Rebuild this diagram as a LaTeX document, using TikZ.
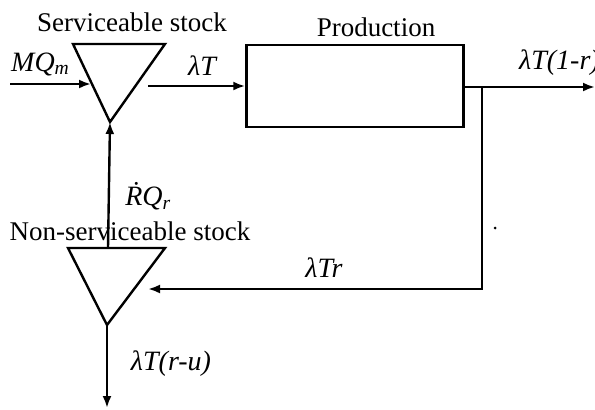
\documentclass[tikz,border=0pt]{standalone}
\usepackage{fontspec}
\setmainfont{Liberation Serif}
\usetikzlibrary{arrows.meta}
\begin{document}
\begin{tikzpicture}[x=1pt,y=-1pt,
  flow/.style={line width=2.4pt,-{Latex[length=12pt,width=9pt]}},
  edge/.style={line width=2.4pt},
  lbl/.style={font=\fontsize{27}{30}\selectfont,inner sep=0pt},
  mlbl/.style={font=\fontsize{28}{30}\selectfont\itshape,inner sep=0pt}]
\useasboundingbox (0,0) rectangle (595,410);
% serviceable stock triangle
\coordinate (s1) at (73,44);
\coordinate (s2) at (165,44);
\coordinate (sa) at (110,122);
\draw[edge,line join=miter] (s1) -- (s2) -- (sa) -- cycle;
% non-serviceable stock triangle
\coordinate (n1) at (68,248);
\coordinate (n2) at (165,248);
\coordinate (na) at (107,325);
\draw[edge,line join=miter] (n1) -- (n2) -- (na) -- cycle;
% production box
\node[draw,line width=2.4pt,minimum width=217pt,minimum height=82pt,inner sep=0pt] (prod) at (355,86) {};
\node[lbl] (tprod) at (376,27) {Production};
\node[lbl] (tserv) at (132,22) {Serviceable stock};
\node[lbl] (tnon) at (130,231) {Non-serviceable stock};
% coordinates
\coordinate (in0) at (10,84);
\coordinate (in1) at (91,84);
\coordinate (o0) at (148,86);
\coordinate (o1) at (prod.west |- o0);
\coordinate (p0) at (prod.east |- 0,87);
\coordinate (pj) at (482,87);
\coordinate (pout) at (595,87);
\coordinate (fb) at (482,289);
\coordinate (fbe) at (148,289);
\coordinate (nt) at (108,248);
\coordinate (down) at (107,408);
% connectors
\draw[flow] (in0) -- (in1);
\draw[flow] (o0) -- (o1);
\draw[flow] (p0) -- (pout);
\draw[flow] (pj) -- (fb) -- (fbe);
\draw[flow] (nt) -- (sa);
\draw[flow] (na) -- (down);
% labels
\node[mlbl,anchor=west] (lmq) at (11,64) {MQ\textsubscript{m}};
\node[mlbl] (llt) at (202,66) {λT};
\node[mlbl,anchor=west] (l1r) at (519,63) {λT(1-r)};
\node[mlbl] (lrq) at (148,196) {\.{R}Q\textsubscript{r}};
\node[mlbl] (ltr) at (324,268) {λTr};
\node[mlbl] (lru) at (171,364) {λT(r-u)};
\fill (495,228) circle (1.5pt);
\end{tikzpicture}
\end{document}
